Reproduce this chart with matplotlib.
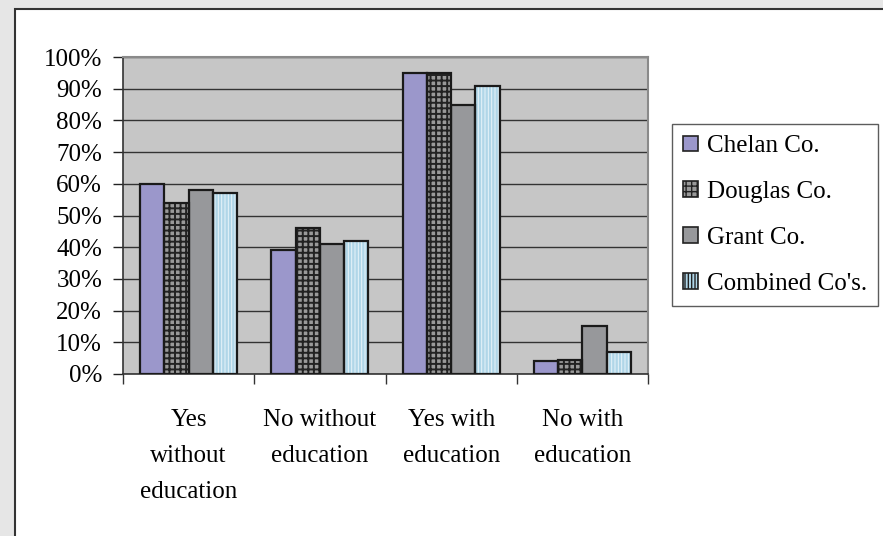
import matplotlib
matplotlib.use("Agg")
import matplotlib.pyplot as plt
import numpy as np
from matplotlib.patches import Rectangle, Patch

plt.rcParams["font.family"] = ["Liberation Serif", "DejaVu Serif"]

categories = ["Yes\nwithout\neducation", "No without\neducation", "Yes with\neducation", "No with\neducation"]
series_names = ["Chelan Co.", "Douglas Co.", "Grant Co.", "Combined Co's."]
chelan = [60, 39, 95, 4]
douglas = [54, 46, 95, 4.5]
grant = [58, 41, 85, 15]
combined = [57, 42, 91, 7]
y_ticks = [0, 10, 20, 30, 40, 50, 60, 70, 80, 90, 100]

# (facecolor, hatch, hatch colour, hatch width)
styles = [
    ("#9b97cb", None, None, 0),
    ("#999999", "+++", "#222222", 1.4),
    ("#97989b", None, None, 0),
    ("#b0d6e8", "|||||", "#e8f4fa", 0.7),
]

fig = plt.figure(figsize=(8.83, 5.36), dpi=100)
fig.patch.set_facecolor("#e6e6e6")
fig.add_artist(Rectangle((15 / 883, -0.05), 1.0, 1 - 9 / 536 + 0.05,
                         transform=fig.transFigure, facecolor="white",
                         edgecolor="#333333", linewidth=1.5, zorder=-1))

ax = fig.add_axes([123 / 883, 1 - 374 / 536, 525 / 883, 317 / 536])
ax.set_zorder(1)
ax.set_facecolor("#c6c6c6")

x = np.arange(len(categories))
bar_w = 0.185
all_series = [chelan, douglas, grant, combined]
for i, (vals, (fc, hatch, hc, hw)) in enumerate(zip(all_series, styles)):
    pos = x + (i - 1.5) * bar_w
    if hatch:
        plt.rcParams["hatch.color"] = hc
        plt.rcParams["hatch.linewidth"] = hw
        ax.bar(pos, vals, bar_w, facecolor=fc, hatch=hatch, edgecolor=hc,
               linewidth=0, zorder=2)
    else:
        ax.bar(pos, vals, bar_w, facecolor=fc, linewidth=0, zorder=2)
    ax.bar(pos, vals, bar_w, facecolor="none", edgecolor="#1a1a1a",
           linewidth=1.6, zorder=3)

ax.set_xlim(-0.5, len(categories) - 0.5)
ax.set_ylim(0, 100)
ax.set_yticks(y_ticks)
ax.set_yticklabels([f"{v}%" for v in y_ticks], fontsize=18)
ax.yaxis.grid(True, color="#333333", linewidth=1.0, zorder=1)
ax.set_axisbelow(True)

ax.set_xticks(x)
ax.set_xticklabels(categories, fontsize=18, linespacing=1.8)
ax.set_xticks(np.arange(len(categories) + 1) - 0.5, minor=True)
ax.tick_params(axis="x", which="major", length=0, pad=25.5)
ax.tick_params(axis="x", which="minor", length=7, width=1, color="#333333", direction="out")
ax.tick_params(axis="y", length=7, width=1, color="#222222", pad=8)

for s in ["top", "right"]:
    ax.spines[s].set_color("#8a8a8a")
    ax.spines[s].set_linewidth(1.5)
for s in ["left", "bottom"]:
    ax.spines[s].set_color("#333333")
    ax.spines[s].set_linewidth(1.2)

handles = []
for (fc, hatch, hc, hw), name in zip(styles, series_names):
    handles.append(Patch(facecolor=fc, edgecolor="#222222", hatch=hatch, linewidth=1.2, label=name))
plt.rcParams["hatch.color"] = "#222222"
plt.rcParams["hatch.linewidth"] = 1.0
leg = fig.legend(handles=handles, loc="upper left", bbox_to_anchor=(672 / 883, 1 - 124 / 536),
                 fontsize=18, frameon=True, fancybox=False, edgecolor="#333333",
                 handlelength=0.6, handleheight=0.6, handletextpad=0.35,
                 labelspacing=0.95, borderpad=0.45, borderaxespad=0)
leg.get_frame().set_linewidth(1.0)

fig.savefig("out.png", dpi=100, facecolor=fig.get_facecolor())
